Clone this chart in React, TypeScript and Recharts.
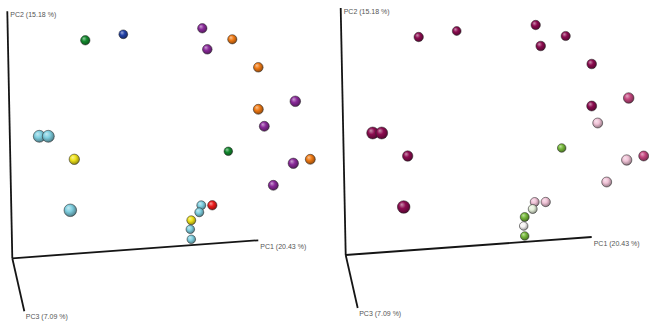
import React from 'react';
import { ScatterChart, Scatter, XAxis, YAxis, ZAxis, ReferenceLine } from 'recharts';

// Projected PCoA scores (screen plane of the 3D view), one entry per sample
const sampleIds = [
  'S01', 'S02', 'S03', 'S04', 'S05', 'S06', 'S07', 'S08', 'S09', 'S10', 'S11', 'S12',
  'S13', 'S14', 'S15', 'S16', 'S17', 'S18', 'S19', 'S20', 'S21', 'S22', 'S23',
];
const projX = [
  0.73, 1.11, 1.9, 1.95, 2.2, 2.46, 2.83, 2.46, 2.52, 2.16, 2.98, 2.81,
  2.61, 0.27, 0.36, 0.62, 0.58, 1.89, 2.0, 1.87, 1.79, 1.78, 1.79,
];
const projY = [
  2.18, 2.24, 2.3, 2.09, 2.19, 1.91, 1.57, 1.49, 1.32, 1.07, 0.99, 0.95,
  0.73, 1.22, 1.22, 0.99, 0.48, 0.53, 0.53, 0.46, 0.38, 0.29, 0.19,
];
// Depth toward the viewer (drives sphere size)
const depth = [
  0.23, 0.13, 0.23, 0.27, 0.2, 0.27, 0.46, 0.34, 0.34, 0.09, 0.34, 0.42,
  0.34, 0.76, 0.76, 0.42, 0.9, 0.16, 0.23, 0.16, 0.16, 0.09, 0.09,
];
// Sample category, left view
const groupLeft = [
  'green', 'blue', 'purple', 'purple', 'orange', 'orange', 'purple', 'orange', 'purple', 'green', 'orange', 'purple',
  'purple', 'cyan', 'cyan', 'yellow', 'cyan', 'cyan', 'red', 'cyan', 'yellow', 'cyan', 'cyan',
];
// Sample category, right view
const groupRight = [
  'dark', 'dark', 'dark', 'dark', 'dark', 'dark', 'mid', 'dark', 'light', 'green', 'mid', 'light',
  'light', 'dark', 'dark', 'dark', 'dark', 'light', 'light', 'pale', 'green', 'white', 'green',
];

// Axis names and their end points in the projected plane
const axisNames = ['PC1 (20.43 %)', 'PC2 (15.18 %)', 'PC3 (7.09 %)'];
const axisEndX = [2.46, -0.05, 0.12];
const axisEndY = [0.18, 2.47, -0.53];

const paletteLeft: Record<string, string> = {
  cyan: '#7fcfe0',
  green: '#138a2e',
  blue: '#2342a8',
  purple: '#8a2a9a',
  orange: '#f07a14',
  yellow: '#eee21a',
  red: '#ec1c1c',
};
const paletteRight: Record<string, string> = {
  dark: '#8c0c50',
  mid: '#c4477f',
  light: '#f0c2d6',
  green: '#76b83a',
  pale: '#e6f0da',
  white: '#f6f3f3',
};

const labelOffset = [
  { dx: 2, dy: 6 },
  { dx: 3, dy: 3.5 },
  { dx: 1.5, dy: 5 },
];

const W = 649;
const H = 322;

function mix(hex: string, target: number, t: number) {
  const n = parseInt(hex.slice(1), 16);
  const ch = [(n >> 16) & 255, (n >> 8) & 255, n & 255].map((c) => Math.round(c + (target - c) * t));
  return `rgb(${ch[0]},${ch[1]},${ch[2]})`;
}

function buildSamples(groups: string[]) {
  return sampleIds.map((id, i) => ({ id, x: projX[i], y: projY[i], z: depth[i], group: groups[i] }));
}

const axisLabels = axisNames.map((name, i) => ({ name, x: axisEndX[i], y: axisEndY[i], z: 0, idx: i }));

function Panel({
  prefix,
  palette,
  groups,
  width,
  originX,
  originY,
}: {
  prefix: string;
  palette: Record<string, string>;
  groups: string[];
  width: number;
  originX: number;
  originY: number;
}) {
  const data = buildSamples(groups);
  const xDomain = [-originX / 100, (width - originX) / 100];
  const yDomain = [(originY - H) / 100, originY / 100];

  const sphere = (props: any) => {
    const { cx, cy, width: w, payload } = props;
    if (cx == null || cy == null) return <g />;
    return (
      <circle
        cx={cx}
        cy={cy}
        r={w / 2}
        fill={`url(#${prefix}-${payload.group})`}
        stroke="#2a2a2a"
        strokeOpacity={0.75}
        strokeWidth={0.7}
      />
    );
  };

  const axisText = (props: any) => {
    const { cx, cy, payload } = props;
    const off = labelOffset[payload.idx];
    return (
      <text
        x={cx + off.dx}
        y={cy + off.dy}
        fontSize={7}
        fill="#555"
        fontFamily="Liberation Sans, Arial, sans-serif"
        dominantBaseline="central"
      >
        {payload.name}
      </text>
    );
  };

  return (
    <ScatterChart width={width} height={H} margin={{ top: 0, right: 0, bottom: 0, left: 0 }}>
      <defs>
        {Object.keys(palette).map((k) => (
          <radialGradient key={k} id={`${prefix}-${k}`} cx="45%" cy="42%" r="60%" fx="34%" fy="30%">
            <stop offset="0%" stopColor={mix(palette[k], 255, 0.55)} />
            <stop offset="45%" stopColor={palette[k]} />
            <stop offset="85%" stopColor={mix(palette[k], 0, 0.3)} />
            <stop offset="100%" stopColor={mix(palette[k], 0, 0.55)} />
          </radialGradient>
        ))}
      </defs>
      <XAxis type="number" dataKey="x" domain={xDomain} hide allowDataOverflow />
      <YAxis type="number" dataKey="y" domain={yDomain} hide allowDataOverflow />
      <ZAxis type="number" dataKey="z" domain={[0, 1]} range={[50.3, 132.7]} />
      {axisNames.map((n, i) => (
        <ReferenceLine
          key={n}
          segment={[
            { x: 0, y: 0 },
            { x: axisEndX[i], y: axisEndY[i] },
          ]}
          stroke="#151515"
          strokeWidth={1.8}
          ifOverflow="visible"
        />
      ))}
      <Scatter data={axisLabels} shape={axisText} isAnimationActive={false} legendType="none" />
      <Scatter data={data} shape={sphere} isAnimationActive={false} legendType="none" />
    </ScatterChart>
  );
}

export default function App() {
  return (
    <div style={{ position: 'absolute', left: 0, top: 0, width: W, height: H, background: '#fff' }}>
      <div style={{ position: 'absolute', left: 0, top: 0 }}>
        <Panel prefix="left" palette={paletteLeft} groups={groupLeft} width={325} originX={12.3} originY={258.3} />
      </div>
      <div style={{ position: 'absolute', left: 325, top: 0 }}>
        <Panel prefix="right" palette={paletteRight} groups={groupRight} width={324} originX={20.7} originY={255} />
      </div>
    </div>
  );
}
